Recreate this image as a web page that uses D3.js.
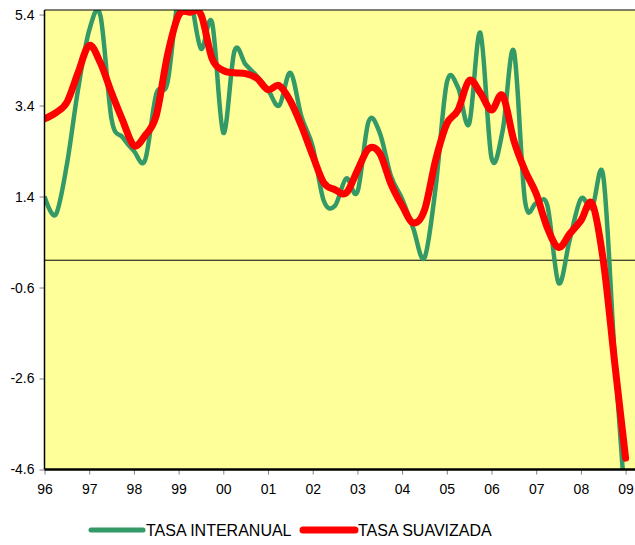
<!DOCTYPE html>
<html lang="es">
<head>
<meta charset="UTF-8">
<title>Tasa interanual y suavizada</title>
<script src="https://d3js.org/d3.v7.min.js"></script>
<style>
  body { margin: 0; background: #fff; }
  text { font-family: "Liberation Sans", Arial, sans-serif; fill: #000; }
</style>
</head>
<body>
<svg width="635" height="545"></svg>
<script>
// quarterly data, 1996 Q1 .. 2009 Q1
const years = ["96","97","98","99","00","01","02","03","04","05","06","07","08","09"];
const yTicks = [5.4, 3.4, 1.4, -0.6, -2.6, -4.6];

const tasaInteranual = [
  1.4, 1.0, 2.1, 3.75,      // 96
  5.05, 5.38, 3.1, 2.7,     // 97
  2.4, 2.2, 3.65, 3.9,      // 98
  5.8, 5.8, 4.65, 5.22,     // 99
  2.8, 4.6, 4.3, 4.05,      // 00
  3.75, 3.4, 4.12, 3.15,    // 01
  2.5, 1.3, 1.2, 1.8,       // 02
  1.5, 3.05, 2.8, 1.85,     // 03
  1.35, 0.7, 0.05, 1.6,     // 04
  3.9, 3.8, 3.0, 5.0,       // 05
  2.25, 2.85, 4.6, 1.3,     // 06
  1.25, 1.2, -0.5, 0.45,    // 07
  1.35, 1.15, 1.85, -2.0,   // 08
  -5.5                      // 09
];

const tasaSuavizada = [
  3.11, 3.24, 3.47, 4.12,
  4.72, 4.34, 3.68, 3.07,
  2.52, 2.74, 3.18, 4.5,
  5.38, 5.45, 5.4, 4.43,
  4.17, 4.12, 4.1, 4.0,
  3.75, 3.84, 3.5, 2.95,
  2.3, 1.7, 1.55, 1.48,
  1.97, 2.45, 2.35, 1.68,
  1.2, 0.82, 1.1, 2.2,
  3.0, 3.3, 3.95, 3.68,
  3.3, 3.62, 2.63, 1.97,
  1.46, 0.71, 0.28, 0.58,
  0.87, 1.25, 0.0, -2.2,
  -4.35
];

const svg = d3.select("svg");
const plot = {left: 44.5, right: 640, top: 10, bottom: 469.5};

const x = d3.scaleLinear()
  .domain([0, 52])
  .range([44.5, 625.6]);

const y = d3.scaleLinear()
  .domain([-4.6, 5.5])
  .range([plot.bottom, plot.top]);

svg.append("defs").append("clipPath")
  .attr("id", "clip")
  .append("rect")
  .attr("x", plot.left)
  .attr("y", plot.top)
  .attr("width", plot.right - plot.left)
  .attr("height", plot.bottom - plot.top);

// background
svg.append("rect")
  .attr("x", plot.left)
  .attr("y", plot.top)
  .attr("width", plot.right - plot.left)
  .attr("height", plot.bottom - plot.top)
  .attr("fill", "#ffff99");

// zero line
svg.append("line")
  .attr("x1", plot.left).attr("x2", plot.right)
  .attr("y1", y(0)).attr("y2", y(0))
  .attr("stroke", "#000").attr("stroke-width", 1);

const line = d3.line()
  .x((d, i) => x(i))
  .y(d => y(d))
  .curve(d3.curveCardinal.tension(0));

const g = svg.append("g").attr("clip-path", "url(#clip)");

g.append("path")
  .datum(tasaInteranual)
  .attr("fill", "none")
  .attr("stroke", "#339966")
  .attr("stroke-width", 4.5)
  .attr("stroke-linejoin", "round")
  .attr("d", line);

g.append("path")
  .datum(tasaSuavizada)
  .attr("fill", "none")
  .attr("stroke", "#ff0000")
  .attr("stroke-width", 7)
  .attr("stroke-linecap", "round")
  .attr("stroke-linejoin", "round")
  .attr("d", line);

// frame top
svg.append("line")
  .attr("x1", plot.left).attr("x2", plot.right)
  .attr("y1", plot.top).attr("y2", plot.top)
  .attr("stroke", "#000").attr("stroke-width", 1.2);

// y axis (plain hyphen for negatives, like the original)
const fmt = d => d.toFixed(1);
const yAxis = svg.append("g")
  .attr("transform", `translate(${plot.left},0)`)
  .call(d3.axisLeft(y).tickValues(yTicks).tickSize(5).tickPadding(5).tickFormat(fmt));
yAxis.select(".domain").remove();
yAxis.append("line")
  .attr("x1", 0).attr("x2", 0)
  .attr("y1", plot.top).attr("y2", plot.bottom)
  .attr("stroke", "#000").attr("stroke-width", 1.5);
yAxis.selectAll(".tick line").attr("stroke", "#808080");
yAxis.selectAll("text").style("font-size", "14px");

// x axis
const xAxis = svg.append("g")
  .attr("transform", `translate(0,${plot.bottom})`)
  .call(d3.axisBottom(x).tickValues(d3.range(0, 53, 4)).tickSize(5).tickPadding(10)
    .tickFormat((d, i) => years[i]));
xAxis.select(".domain").remove();
xAxis.append("line")
  .attr("x1", plot.left).attr("x2", plot.right)
  .attr("y1", 0).attr("y2", 0)
  .attr("stroke", "#000").attr("stroke-width", 2.5);
xAxis.selectAll(".tick line").attr("stroke", "#808080");
xAxis.selectAll("text").style("font-size", "14px");

// legend
const legend = [
  {name: "TASA INTERANUAL", color: "#339966", width: 5, x: 91},
  {name: "TASA SUAVIZADA", color: "#ff0000", width: 7, x: 303}
];
const lg = svg.append("g");
legend.forEach(l => {
  lg.append("line")
    .attr("x1", l.x).attr("x2", l.x + 52)
    .attr("y1", 530).attr("y2", 530)
    .attr("stroke", l.color)
    .attr("stroke-width", l.width)
    .attr("stroke-linecap", "round");
  lg.append("text")
    .attr("x", l.x + 55)
    .attr("y", 536)
    .style("font-size", "16px")
    .text(l.name);
});
</script>
</body>
</html>
